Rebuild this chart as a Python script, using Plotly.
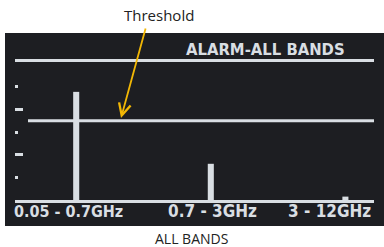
import plotly.graph_objects as go

# ---- data ----
bands = ["0.05 - 0.7GHz", "0.7 - 3GHz", "3 - 12GHz"]
band_pos = [0, 1, 2]
levels = [95.6, 32.0, 3.0]
threshold = 70.0
major_ticks = [40, 80]
minor_ticks = [20, 60, 100]
title_text = "ALARM-ALL BANDS"
footer_text = "ALL BANDS"
threshold_label = "Threshold"

# ---- style ----
LED = "#d9dee3"
PANEL = "#1d1e22"
W, H = 384, 247
L, R, T, B = 15, 10, 62, 47
plot_w = W - L - R
plot_h = H - T - B

def px(x):
    return (x - L) / plot_w

def py(y):
    return (H - B - y) / plot_h

fig = go.Figure()
fig.add_trace(go.Bar(
    x=band_pos, y=levels, width=0.045,
    marker=dict(color=LED, line=dict(width=0)),
    hoverinfo="skip",
))

led_font = dict(family="DejaVu Sans Condensed, DejaVu Sans", size=17, color=LED)

annotations = []
# band labels under the baseline
label_anchor = ["center", "center", "right"]
label_x = [-0.06, 1.01, 2.205]
label_sizes = [16, 17, 17]
for lab, xa, anc, fs in zip(bands, label_x, label_anchor, label_sizes):
    annotations.append(dict(
        x=xa, y=py(211), xref="x", yref="paper", text="<b>" + lab + "</b>",
        showarrow=False, xanchor=anc, yanchor="middle",
        font=dict(led_font, size=fs),
    ))
annotations.append(dict(
    x=px(347), y=py(49), xref="paper", yref="paper", text="<b>" + title_text + "</b>",
    showarrow=False, xanchor="right", yanchor="middle",
    font=dict(led_font, size=16.5),
))
annotations.append(dict(
    x=px(191), y=py(238.5), xref="paper", yref="paper", text=footer_text,
    showarrow=False, xanchor="center", yanchor="middle",
    font=dict(family="Open Sans", size=14, color="#222222"),
))
annotations.append(dict(
    x=px(159), y=py(15), xref="paper", yref="paper", text=threshold_label,
    showarrow=False, xanchor="center", yanchor="middle",
    font=dict(family="Open Sans", size=15, color="#222222"),
))
# arrow
annotations.append(dict(
    x=px(121), y=py(118), xref="paper", yref="paper", text="",
    showarrow=True, ax=25, ay=-91, axref="pixel", ayref="pixel",
    arrowhead=5, arrowsize=1.3, arrowwidth=1.8, arrowcolor="#f2b705",
    standoff=0, startstandoff=0,
))

shapes = [
    dict(type="rect", xref="paper", yref="paper", layer="below",
         x0=px(5), x1=px(384), y0=py(226), y1=py(33),
         fillcolor=PANEL, line=dict(width=0)),
    dict(type="line", xref="paper", yref="y", layer="above",
         x0=px(28), x1=1, y0=threshold, y1=threshold,
         line=dict(color=LED, width=3)),
]

fig.update_layout(
    width=W, height=H,
    margin=dict(l=L, r=R, t=T, b=B),
    paper_bgcolor="white", plot_bgcolor="rgba(0,0,0,0)",
    showlegend=False,
    annotations=annotations, shapes=shapes,
    xaxis=dict(range=[(L - 76.2) / 134.6, (W - R - 76.2) / 134.6],
               showgrid=False, zeroline=False, showticklabels=False,
               showline=True, mirror=True, linecolor=LED, linewidth=3,
               ticks=""),
    yaxis=dict(range=[0, 122], showgrid=False, zeroline=False,
               showticklabels=False, showline=False,
               tickmode="array", tickvals=major_ticks,
               ticks="inside", ticklen=8, tickwidth=3, tickcolor=LED,
               minor=dict(tickmode="array", tickvals=minor_ticks,
                          ticks="inside", ticklen=3, tickwidth=3,
                          tickcolor=LED, showgrid=False)),
)

fig.write_html("out.html", config={"displayModeBar": False},
               post_script="document.body.style.margin='0px';document.body.style.overflow='hidden';")
